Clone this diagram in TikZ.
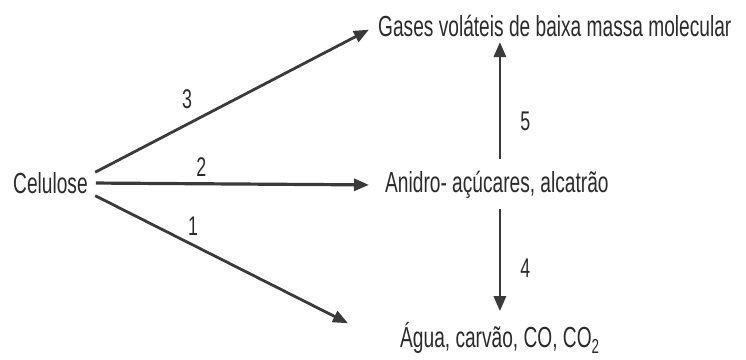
\documentclass[tikz,border=0pt]{standalone}
\usepackage{fontspec}
\setmainfont{Liberation Sans}[FakeStretch=0.66]
\usetikzlibrary{arrows.meta, positioning, calc}
\definecolor{ink}{HTML}{2B2B2B}
\definecolor{shaft}{HTML}{3A3A3A}

\begin{document}
\begin{tikzpicture}[
    x=1pt, y=-1pt,
    every node/.style={font=\fontsize{29}{33}\selectfont, text=ink, inner sep=2pt},
    lbl/.style={anchor=west},
    num/.style={font=\fontsize{27}{31}\selectfont, inner sep=1pt},
    rxn/.style={draw=shaft, line width=2.8pt, -{Triangle[length=15pt, width=12pt]}},
]
\useasboundingbox (0,0) rectangle (746,359);

% species
\node[lbl] (cel)    at (11,183)  {Celulose};
\node[lbl] (gases)  at (376,26)  {Gases voláteis de baixa massa molecular};
\node[lbl] (anidro) at (383,185) {Anidro- açúcares, alcatrão};
\node[lbl] (agua)   at (398,338) {Água, carvão, CO, CO\textsubscript{2}};

% cellulose routes
\draw[rxn, shorten <=6pt, shorten >=8pt] ([yshift=8pt]cel.east) -- (gases.west)
    node[num, pos=.34, above=13pt] (n3) {3};
\draw[rxn, line width=3.2pt, shorten <=6pt, shorten >=14pt] (cel.east) -- (anidro.west)
    node[num, pos=.38, above=5pt] (n2) {2};
\draw[rxn, shorten <=6pt] ([yshift=-10pt]cel.east) -- ([xshift=-50pt,yshift=-3pt]agua.north west)
    node[num, pos=.40, above=7pt] (n1) {1};

% secondary reactions
\draw[rxn, shorten <=10pt, shorten >=3pt] (anidro.north -| agua.north) -- (gases.south -| agua.north)
    node[num, pos=.37, right=18pt] (n5) {5};
\draw[rxn, shorten <=8pt, shorten >=9pt] (anidro.south -| agua.north) -- (agua.north)
    node[num, pos=.56, right=18pt] (n4) {4};
\end{tikzpicture}
\end{document}
